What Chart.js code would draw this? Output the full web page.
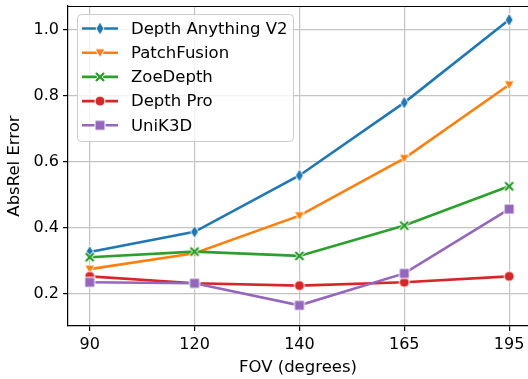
<!DOCTYPE html>
<html>
<head>
<meta charset="utf-8">
<script src="https://cdn.jsdelivr.net/npm/chart.js@4.4.1/dist/chart.umd.min.js"></script>
<style>
  html, body { margin: 0; padding: 0; background: #fff; }
  #wrap { width: 528px; height: 379px; }
</style>
</head>
<body>
<div id="wrap"><canvas id="fovChart" width="528" height="379"></canvas></div>
<script>
// data
const fovLabels = ['90', '120', '140', '165', '195'];
const yTicks = [0.2, 0.4, 0.6, 0.8, 1.0];

const depthAnythingV2 = [0.326, 0.387, 0.558, 0.779, 1.030];
const patchFusion     = [0.274, 0.322, 0.436, 0.610, 0.833];
const zoeDepth        = [0.310, 0.327, 0.314, 0.406, 0.525];
const depthPro        = [0.252, 0.231, 0.224, 0.234, 0.252];
const uniK3D          = [0.234, 0.231, 0.164, 0.261, 0.456];

const seriesNames  = ['Depth Anything V2', 'PatchFusion', 'ZoeDepth', 'Depth Pro', 'UniK3D'];
const seriesValues = [depthAnythingV2, patchFusion, zoeDepth, depthPro, uniK3D];
const seriesColors = ['#1f77b4', '#ff7f0e', '#2ca02c', '#d62728', '#9467bd'];
const seriesShapes = ['thin_diamond', 'triangle_down', 'x', 'circle', 'square'];

const FONT = 'DejaVu Sans';

// matplotlib-like markers drawn on small canvases
function makeMarker(shape, color) {
  const c = document.createElement('canvas');
  c.width = 18; c.height = 18;
  const g = c.getContext('2d');
  const cx = 9, cy = 9;
  g.fillStyle = color;
  g.strokeStyle = '#ffffff';
  g.lineWidth = 1;
  g.beginPath();
  if (shape === 'thin_diamond') {
    g.moveTo(cx, cy - 6.5); g.lineTo(cx + 4, cy); g.lineTo(cx, cy + 6.5); g.lineTo(cx - 4, cy);
    g.closePath();
  } else if (shape === 'triangle_down') {
    g.moveTo(cx - 5, cy - 4); g.lineTo(cx + 5, cy - 4); g.lineTo(cx, cy + 5);
    g.closePath();
  } else if (shape === 'x') {
    const a = 1.5, L = 6;
    const pts = [[-a,-L],[a,-L],[a,-a],[L,-a],[L,a],[a,a],[a,L],[-a,L],[-a,a],[-L,a],[-L,-a],[-a,-a]];
    const r = Math.PI / 4, cs = Math.cos(r), sn = Math.sin(r);
    pts.forEach((p, i) => {
      const x = cx + p[0] * cs - p[1] * sn;
      const y = cy + p[0] * sn + p[1] * cs;
      if (i === 0) g.moveTo(x, y); else g.lineTo(x, y);
    });
    g.closePath();
  } else if (shape === 'circle') {
    g.arc(cx, cy, 5, 0, Math.PI * 2);
  } else {
    g.rect(cx - 5, cy - 5, 10, 10);
  }
  g.fill();
  g.stroke();
  return c;
}

const markers = seriesShapes.map((s, i) => makeMarker(s, seriesColors[i]));

const datasets = seriesValues.map((vals, i) => ({
  label: seriesNames[i],
  data: vals.map((v, k) => ({ x: k, y: v })),
  borderColor: seriesColors[i],
  backgroundColor: seriesColors[i],
  borderWidth: 2.6,
  pointStyle: markers[i],
  pointRadius: 5,
  order: seriesValues.length - i, // later series on top, like matplotlib
  tension: 0,
  clip: false
}));

// legend box + top frame line
const frameAndLegend = {
  id: 'frameAndLegend',
  afterDatasetsDraw(chart) {
    const ctx = chart.ctx;
    const a = chart.chartArea;
    ctx.save();
    ctx.strokeStyle = '#000';
    ctx.lineWidth = 1.2;
    ctx.beginPath();
    ctx.moveTo(a.left, a.top + 0.5);
    ctx.lineTo(a.right, a.top + 0.5);
    ctx.stroke();

    // legend
    const bx = 77, by = 14, bw = 216, bh = 127, r = 4;
    ctx.fillStyle = 'rgba(255,255,255,0.8)';
    ctx.strokeStyle = '#cccccc';
    ctx.lineWidth = 1;
    ctx.beginPath();
    ctx.roundRect(bx + 0.5, by + 0.5, bw, bh, r);
    ctx.fill();
    ctx.stroke();

    ctx.font = '16.5px "' + FONT + '"';
    ctx.textBaseline = 'middle';
    ctx.textAlign = 'left';
    seriesNames.forEach((name, i) => {
      const yy = 28.5 + i * 24.2;
      ctx.strokeStyle = seriesColors[i];
      ctx.lineWidth = 2.6;
      ctx.beginPath();
      ctx.moveTo(82, yy);
      ctx.lineTo(118, yy);
      ctx.stroke();
      ctx.drawImage(markers[i], 100 - 9, yy - 9);
      ctx.fillStyle = '#000';
      ctx.fillText(name, 131, yy + 1);
    });
    ctx.restore();
  }
};

new Chart(document.getElementById('fovChart'), {
  type: 'line',
  data: { datasets: datasets },
  options: {
    responsive: false,
    animation: false,
    events: [],
    devicePixelRatio: 1,
    layout: { autoPadding: false, padding: { left: 0, top: 6, right: 0, bottom: 0 } },
    plugins: {
      legend: { display: false },
      tooltip: { enabled: false }
    },
    scales: {
      x: {
        type: 'linear',
        min: -0.207,
        max: 4.18,
        afterBuildTicks: (scale) => { scale.ticks = fovLabels.map((l, k) => ({ value: k })); },
        afterFit: (scale) => { scale.height = 53; scale.paddingLeft = 0; scale.paddingRight = 0; },
        ticks: {
          callback: (v) => fovLabels[v],
          font: { family: FONT, size: 16 },
          color: '#000',
          padding: 4,
          maxRotation: 0
        },
        grid: { color: '#c4c4c4', lineWidth: 1.2, tickColor: '#000', tickLength: 5, tickWidth: 1.2 },
        border: { color: '#000', width: 1.2 },
        title: {
          display: true,
          text: 'FOV (degrees)',
          font: { family: FONT, size: 16.5 },
          color: '#000',
          padding: { top: 0, bottom: 1 }
        }
      },
      y: {
        min: 0.1014,
        max: 1.072,
        afterBuildTicks: (scale) => { scale.ticks = yTicks.map(v => ({ value: v })); },
        afterFit: (scale) => { scale.width = 68; scale.paddingTop = 0; scale.paddingBottom = 0; },
        ticks: {
          callback: (v) => v.toFixed(1),
          font: { family: FONT, size: 16 },
          color: '#000',
          padding: 4
        },
        grid: { color: '#c4c4c4', lineWidth: 1.2, tickColor: '#000', tickLength: 5, tickWidth: 1.2 },
        border: { color: '#000', width: 1.2 },
        title: {
          display: true,
          text: 'AbsRel Error',
          font: { family: FONT, size: 16.5 },
          color: '#000',
          padding: { top: 5, bottom: 0 }
        }
      }
    }
  },
  plugins: [frameAndLegend]
});
</script>
</body>
</html>
